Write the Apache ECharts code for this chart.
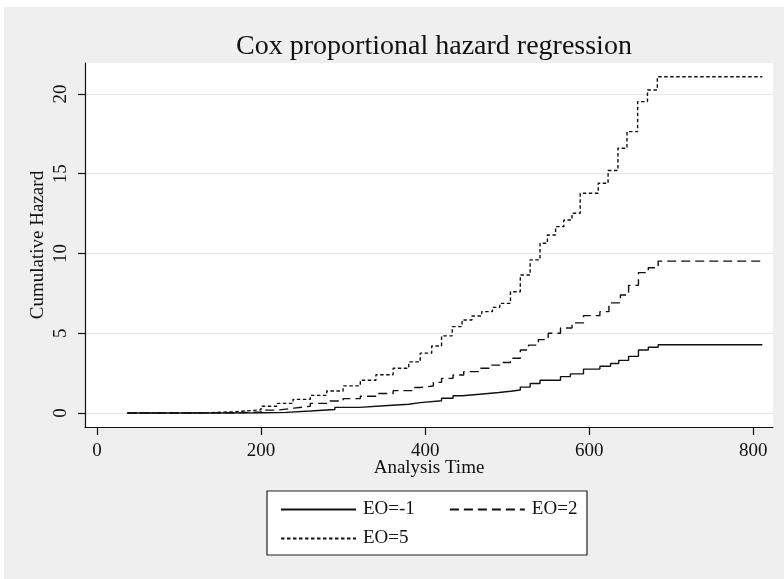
<!DOCTYPE html>
<html>
<head>
<meta charset="utf-8">
<title>Cox proportional hazard regression</title>
<script src="https://cdn.jsdelivr.net/npm/echarts@6/dist/echarts.min.js"></script>
<style>
  html, body { margin: 0; padding: 0; background: #fff; }
  #chart { width: 784px; height: 579px; }
</style>
</head>
<body>
<div id="chart"></div>
<script>
  // Cumulative hazard step functions
  const seriesNames = ['EO=-1', 'EO=2', 'EO=5']

  const timeEOm1 = [37, 150, 200, 230, 260, 290, 320, 350, 380, 394, 420, 434, 445, 470, 490, 504, 516, 528, 540, 565, 577, 593, 613, 626, 636, 648, 660, 672, 684, 811]
  const hazEOm1 = [0, 0.01, 0.04, 0.12, 0.22, 0.35, 0.45, 0.55, 0.65, 0.77, 0.92, 1.08, 1.19, 1.28, 1.36, 1.44, 1.62, 1.85, 2.05, 2.28, 2.45, 2.75, 2.93, 3.1, 3.3, 3.55, 3.95, 4.12, 4.28, 4.28]

  const timeEO2 = [37, 110, 160, 200, 220, 240, 260, 280, 300, 321, 340, 361, 385, 394, 410, 420, 434, 447, 465, 479, 491, 504, 516, 526, 538, 550, 565, 579, 593, 613, 624, 638, 648, 660, 672, 684, 811]
  const hazEO2 = [0, 0.01, 0.05, 0.18, 0.3, 0.42, 0.6, 0.75, 0.9, 1.05, 1.22, 1.4, 1.6, 1.69, 1.92, 2.17, 2.38, 2.59, 2.8, 3.0, 3.16, 3.43, 3.95, 4.25, 4.6, 5.0, 5.33, 5.65, 6.1, 6.35, 6.9, 7.4, 8.0, 8.8, 9.1, 9.52, 9.52]

  const timeEO5 = [37, 100, 140, 170, 200, 220, 239, 260, 280, 300, 321, 340, 361, 380, 394, 408, 420, 433, 445, 457, 469, 482, 491, 504, 516, 528, 540, 549, 559, 569, 579, 589, 611, 623, 635, 646, 659, 671, 683, 811]
  const hazEO5 = [0, 0.02, 0.08, 0.2, 0.42, 0.6, 0.85, 1.1, 1.38, 1.7, 2.05, 2.4, 2.8, 3.2, 3.75, 4.2, 4.83, 5.41, 5.83, 6.08, 6.35, 6.62, 6.87, 7.6, 8.65, 9.6, 10.64, 11.16, 11.68, 12.1, 12.52, 13.77, 14.4, 15.2, 16.6, 17.64, 19.52, 20.25, 21.08, 21.08]

  const xTicks = [0, 200, 400, 600, 800]
  const yTicks = [0, 5, 10, 15, 20]

  const FONT = '"Liberation Serif", "DejaVu Serif", serif'
  const INK = '#111'

  const pairs = (xs, ys) => xs.map((x, i) => [x, ys[i]])

  const lineSeries = (name, xs, ys, dash) => ({
    name,
    type: 'line',
    step: 'end',
    symbol: 'none',
    data: pairs(xs, ys),
    lineStyle: { color: INK, width: 1.4, type: dash },
    itemStyle: { color: INK },
    emphasis: { disabled: true },
    animation: false,
  })

  // line only in the key, no marker
  const legendBase = {
    left: 275,
    itemWidth: 75,
    itemHeight: 14,
    itemGap: 34,
    itemStyle: { color: 'rgba(0,0,0,0)', borderWidth: 0, opacity: 0 },
    textStyle: { fontFamily: FONT, fontSize: 19, color: INK, padding: [0, 0, 0, 2] },
    selectedMode: false,
  }

  const chart = echarts.init(document.getElementById('chart'))

  chart.setOption({
    animation: false,
    backgroundColor: '#fff',
    graphic: [
      { type: 'rect', z: -10, shape: { x: 4, y: 7, width: 780, height: 572 }, style: { fill: '#efefef' } },
      { type: 'rect', z: -5, shape: { x: 267, y: 491, width: 320, height: 64 }, style: { fill: '#fff', stroke: '#222', lineWidth: 1.2 } },
    ],
    title: {
      text: 'Cox proportional hazard regression',
      left: 429,
      top: 28,
      textAlign: 'center',
      textStyle: { fontFamily: FONT, fontSize: 28, fontWeight: 'normal', color: INK },
    },
    legend: [
      Object.assign({}, legendBase, { top: 495, data: [seriesNames[0], seriesNames[1]] }),
      Object.assign({}, legendBase, { top: 524, data: [seriesNames[2]] }),
    ],
    grid: {
      left: 85, right: 11, top: 63, bottom: 152,
      show: true, backgroundColor: '#fff', borderWidth: 0,
    },
    xAxis: {
      type: 'value',
      min: -14.6,
      max: 824,
      name: 'Analysis Time',
      nameLocation: 'middle',
      nameGap: 32,
      nameMoveOverlap: false,
      nameTextStyle: { fontFamily: FONT, fontSize: 19, color: INK },
      axisLine: { onZero: false, lineStyle: { color: INK, width: 1.2 } },
      axisTick: { customValues: xTicks, length: 8, lineStyle: { color: INK, width: 1.2 } },
      axisLabel: { customValues: xTicks, margin: 15, fontFamily: FONT, fontSize: 19, color: INK },
      splitLine: { show: false },
    },
    yAxis: {
      type: 'value',
      min: -0.88,
      max: 21.94,
      name: 'Cumulative Hazard',
      nameLocation: 'middle',
      nameGap: 37,
      nameMoveOverlap: false,
      nameTextStyle: { fontFamily: FONT, fontSize: 19, color: INK },
      axisLine: { show: true, onZero: false, lineStyle: { color: INK, width: 1.2 } },
      axisTick: { show: true, customValues: yTicks, length: 7, lineStyle: { color: INK, width: 1.2 } },
      axisLabel: { customValues: yTicks, rotate: 90, margin: 14, fontFamily: FONT, fontSize: 19, color: INK },
      splitLine: { show: true, lineStyle: { color: '#e6e6e6', width: 1.2 } },
    },
    series: [
      lineSeries(seriesNames[0], timeEOm1, hazEOm1, 'solid'),
      lineSeries(seriesNames[1], timeEO2, hazEO2, [9, 5]),
      lineSeries(seriesNames[2], timeEO5, hazEO5, [3.5, 2.5]),
    ],
  })
</script>
</body>
</html>
